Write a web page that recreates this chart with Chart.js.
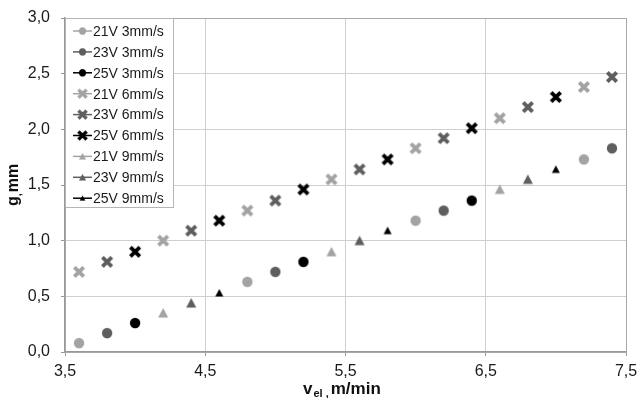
<!DOCTYPE html>
<html>
<head>
<meta charset="utf-8">
<script src="https://cdn.jsdelivr.net/npm/chart.js@4/dist/chart.umd.min.js"></script>
<style>
  html, body { margin: 0; padding: 0; background: #fff; }
  #wrap { width: 637px; height: 398px; }
</style>
</head>
<body>
<div id="wrap"><canvas id="chart" width="637" height="398"></canvas></div>
<script>
// series labels
const seriesNames = [
    '21V 3mm/s', '23V 3mm/s', '25V 3mm/s',
    '21V 6mm/s', '23V 6mm/s', '25V 6mm/s',
    '21V 9mm/s', '23V 9mm/s', '25V 9mm/s'
];

// x values (v_el, m/min) per series
const x21v3 = [3.6, 4.8, 6.0, 7.2];
const x23v3 = [3.8, 5.0, 6.2, 7.4];
const x25v3 = [4.0, 5.2, 6.4];
const x21v6 = [3.6, 4.2, 4.8, 5.4, 6.0, 6.6, 7.2];
const x23v6 = [3.8, 4.4, 5.0, 5.6, 6.2, 6.8, 7.4];
const x25v6 = [4.0, 4.6, 5.2, 5.8, 6.4, 7.0];
const x21v9 = [4.2, 5.4, 6.6];
const x23v9 = [4.4, 5.6, 6.8];
const x25v9 = [4.6, 5.8, 7.0];

// g, mm per series
const g21v3 = [0.08, 0.63, 1.18, 1.73];
const g23v3 = [0.17, 0.72, 1.27, 1.83];
const g25v3 = [0.26, 0.81, 1.36];
const g21v6 = [0.72, 1.00, 1.27, 1.55, 1.83, 2.10, 2.38];
const g23v6 = [0.81, 1.09, 1.36, 1.64, 1.92, 2.20, 2.47];
const g25v6 = [0.90, 1.18, 1.46, 1.73, 2.01, 2.29];
const g21v9 = [0.35, 0.90, 1.46];
const g23v9 = [0.44, 1.00, 1.55];
const g25v9 = [0.53, 1.09, 1.64];

// axis ticks
const xTicks = [3.5, 4.5, 5.5, 6.5, 7.5];
const yTicks = [0, 0.5, 1.0, 1.5, 2.0, 2.5, 3.0];

const xs = [x21v3, x23v3, x25v3, x21v6, x23v6, x25v6, x21v9, x23v9, x25v9];
const ys = [g21v3, g23v3, g25v3, g21v6, g23v6, g25v6, g21v9, g23v9, g25v9];

const shades = ['#a3a3a3', '#5e5e5e', '#000000'];
const shapes = ['circle', 'cross', 'triangle'];

// build marker images so legend and plot use the same symbol
function makeMarker(shape, color, small) {
    const c = document.createElement('canvas');
    c.width = 14; c.height = 14;
    const ctx = c.getContext('2d');
    ctx.fillStyle = color;
    ctx.strokeStyle = color;
    if (shape === 'circle') {
        ctx.beginPath();
        ctx.arc(7, 7, 5.2, 0, Math.PI * 2);
        ctx.fill();
    } else if (shape === 'cross') {
        ctx.lineWidth = 3.8;
        ctx.beginPath();
        ctx.moveTo(2.3, 2.3); ctx.lineTo(11.7, 11.7);
        ctx.moveTo(11.7, 2.3); ctx.lineTo(2.3, 11.7);
        ctx.stroke();
    } else {
        const h = small ? 4 : 5;
        ctx.beginPath();
        ctx.moveTo(7, 7 - h);
        ctx.lineTo(7 + h, 7 + h - 0.5);
        ctx.lineTo(7 - h, 7 + h - 0.5);
        ctx.closePath();
        ctx.fill();
    }
    return c;
}

const markers = [];
const datasets = [];
for (let i = 0; i < 9; i++) {
    const shape = shapes[Math.floor(i / 3)];
    const color = shades[i % 3];
    const img = makeMarker(shape, color, shape === 'triangle' && i % 3 === 2);
    markers.push({ img: img, color: color });
    datasets.push({
        label: seriesNames[i],
        data: xs[i].map((x, k) => ({ x: x, y: ys[i][k] })),
        pointStyle: img,
        backgroundColor: color,
        borderColor: color,
        showLine: false
    });
}

const fmt = v => v.toFixed(1).replace('.', ',');
const family = '"Liberation Sans", Arial, sans-serif';

// legend box inside the plot, top left
const boxLegend = {
    id: 'boxLegend',
    afterDraw(chart) {
        const ctx = chart.ctx;
        const a = chart.chartArea;
        const x0 = a.left, y0 = a.top;
        const w = 108, h = 189;
        ctx.save();
        ctx.fillStyle = '#fff';
        ctx.fillRect(x0, y0, w, h);
        ctx.strokeStyle = '#b5b5b5';
        ctx.lineWidth = 1;
        ctx.strokeRect(x0 + 0.5, y0 + 0.5, w, h);
        ctx.font = '14px ' + family;
        ctx.textBaseline = 'middle';
        for (let i = 0; i < seriesNames.length; i++) {
            const cy = y0 + 13 + i * 20.9;
            ctx.strokeStyle = markers[i].color;
            ctx.lineWidth = 1.5;
            ctx.beginPath();
            ctx.moveTo(x0 + 8, cy);
            ctx.lineTo(x0 + 27, cy);
            ctx.stroke();
            const m = markers[i].img;
            const s = i >= 3 && i < 6 ? 12 : 10;
            ctx.drawImage(m, x0 + 17.5 - s / 2, cy - s / 2, s, s);
            ctx.fillStyle = '#1a1a1a';
            ctx.fillText(seriesNames[i], x0 + 28, cy + 1);
        }
        ctx.restore();
    }
};

// axis titles with subscripts
const axisTitles = {
    id: 'axisTitles',
    afterDraw(chart) {
        const ctx = chart.ctx;
        ctx.save();
        ctx.fillStyle = '#111';
        ctx.textBaseline = 'alphabetic';
        const big = 'bold 17px ' + family;
        const sub = 'bold 11px ' + family;
        // x title: v_el, m/min
        let x = 303, y = 394;
        ctx.font = big; ctx.fillText('v', x, y); x += ctx.measureText('v').width + 1;
        ctx.font = sub; ctx.fillText('el ,', x, y + 3); x += ctx.measureText('el ,').width + 2;
        ctx.font = big; ctx.fillText('m/min', x, y);
        // y title: g_, mm (rotated)
        ctx.translate(18, 206);
        ctx.rotate(-Math.PI / 2);
        x = 0; y = 0;
        ctx.font = 'bold 16px ' + family; ctx.fillText('g', x, y); x += ctx.measureText('g').width;
        ctx.font = sub; ctx.fillText(',', x, y + 3); x += ctx.measureText(',').width + 1;
        ctx.font = 'bold 16px ' + family; ctx.fillText('mm', x, y);
        ctx.restore();
    }
};

const tickFont = { family: family, size: 16 };

new Chart(document.getElementById('chart').getContext('2d'), {
    type: 'scatter',
    data: { datasets: datasets },
    options: {
        responsive: false,
        animation: false,
        layout: { padding: { top: 18, right: 0, left: 0, bottom: 0 } },
        plugins: {
            legend: { display: false },
            tooltip: { enabled: false }
        },
        scales: {
            x: {
                type: 'linear',
                min: 3.5,
                max: 7.5,
                afterBuildTicks: s => { s.ticks = xTicks.map(v => ({ value: v })); },
                afterFit: s => { s.height = 46; s.paddingRight = 11; s.paddingLeft = 0; },
                ticks: { font: tickFont, color: '#1a1a1a', padding: 6, maxRotation: 0, callback: v => fmt(v) },
                grid: { color: '#cfcfcf', tickLength: 4, tickColor: '#999' },
                border: { color: '#999', width: 1.5 }
            },
            y: {
                min: 0,
                max: 3,
                afterBuildTicks: s => { s.ticks = yTicks.map(v => ({ value: v })); },
                afterFit: s => { s.width = 65; s.paddingTop = 0; s.paddingBottom = 0; },
                ticks: { font: tickFont, color: '#1a1a1a', padding: 11, callback: v => fmt(v) },
                grid: { color: '#cfcfcf', tickLength: 4, tickColor: '#999' },
                border: { color: '#999', width: 1.5 }
            }
        }
    },
    plugins: [boxLegend, axisTitles, {
        id: 'frame',
        beforeDatasetsDraw(chart) {
            const a = chart.chartArea, ctx = chart.ctx;
            ctx.save();
            ctx.strokeStyle = '#a8a8a8';
            ctx.lineWidth = 1;
            ctx.strokeRect(a.left + 0.5, a.top + 0.5, a.right - a.left, a.bottom - a.top);
            ctx.restore();
        }
    }]
});
</script>
</body>
</html>
